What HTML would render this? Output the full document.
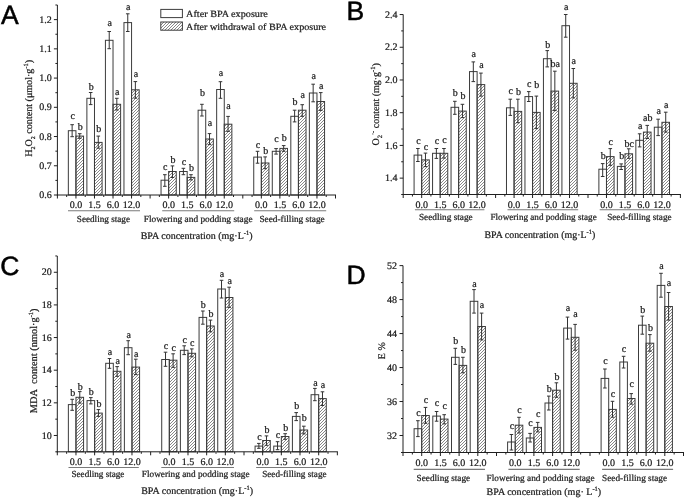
<!DOCTYPE html>
<html><head><meta charset="utf-8"><title>BPA figure</title>
<style>html,body{margin:0;padding:0;background:#fff;}body{width:685px;height:498px;overflow:hidden;}svg{display:block;filter:blur(0.4px);}text{font-family:"Liberation Serif", serif;fill:#1a1a1a;text-rendering:geometricPrecision;stroke:#1a1a1a;stroke-width:0.22px;}.s{font-family:"Liberation Sans", sans-serif;stroke:#000;stroke-width:0.5px;fill:#000;}</style>
</head><body>
<svg width="685" height="498" viewBox="0 0 685 498">
<defs><pattern id="h" patternUnits="userSpaceOnUse" width="3" height="3"><path d="M-0.75,0.75 L0.75,-0.75 M0,3 L3,0 M2.25,3.75 L3.75,2.25" stroke="#606060" stroke-width="0.75"/></pattern></defs>
<rect width="685" height="498" fill="#fff"/>
<rect x="68.34" y="130.7" width="7.6" height="64.3" fill="#fff" stroke="#3c3c3c" stroke-width="1"/>
<path d="M72.14,124.7 V136.7 M70.34,124.7 H73.94 M70.34,136.7 H73.94" stroke="#333333" stroke-width="1" fill="none"/>
<text x="72.64" y="119.4" font-size="10" text-anchor="middle">c</text>
<rect x="75.94" y="136.1" width="7.6" height="58.9" fill="url(#h)" stroke="#3c3c3c" stroke-width="1"/>
<path d="M79.74,133.7 V138.3 M77.94,133.7 H81.54 M77.94,138.3 H81.54" stroke="#333333" stroke-width="1" fill="none"/>
<text x="80.24" y="129.6" font-size="10" text-anchor="middle">b</text>
<rect x="86.88" y="98.3" width="7.6" height="96.7" fill="#fff" stroke="#3c3c3c" stroke-width="1"/>
<path d="M90.68,92.5 V104.6 M88.88,92.5 H92.48 M88.88,104.6 H92.48" stroke="#333333" stroke-width="1" fill="none"/>
<text x="91.18" y="90.2" font-size="10" text-anchor="middle">b</text>
<rect x="94.48" y="142.4" width="7.6" height="52.6" fill="url(#h)" stroke="#3c3c3c" stroke-width="1"/>
<path d="M98.28,136.1 V148.2 M96.48,136.1 H100.08 M96.48,148.2 H100.08" stroke="#333333" stroke-width="1" fill="none"/>
<text x="98.78" y="132.4" font-size="10" text-anchor="middle">b</text>
<rect x="105.42" y="40.3" width="7.6" height="154.7" fill="#fff" stroke="#3c3c3c" stroke-width="1"/>
<path d="M109.22,31.5 V48.7 M107.42,31.5 H111.02 M107.42,48.7 H111.02" stroke="#333333" stroke-width="1" fill="none"/>
<text x="109.72" y="25.7" font-size="10" text-anchor="middle">a</text>
<rect x="113.02" y="104.3" width="7.6" height="90.7" fill="url(#h)" stroke="#3c3c3c" stroke-width="1"/>
<path d="M116.82,98.3 V110 M115.02,98.3 H118.62 M115.02,110 H118.62" stroke="#333333" stroke-width="1" fill="none"/>
<text x="117.32" y="95" font-size="10" text-anchor="middle">a</text>
<rect x="123.96" y="22.6" width="7.6" height="172.4" fill="#fff" stroke="#3c3c3c" stroke-width="1"/>
<path d="M127.76,13.8 V31.5 M125.96,13.8 H129.56 M125.96,31.5 H129.56" stroke="#333333" stroke-width="1" fill="none"/>
<text x="128.26" y="9.5" font-size="10" text-anchor="middle">a</text>
<rect x="131.56" y="89.8" width="7.6" height="105.2" fill="url(#h)" stroke="#3c3c3c" stroke-width="1"/>
<path d="M135.36,81.6 V98.2 M133.56,81.6 H137.16 M133.56,98.2 H137.16" stroke="#333333" stroke-width="1" fill="none"/>
<text x="135.86" y="76.8" font-size="10" text-anchor="middle">a</text>
<rect x="161.04" y="180.2" width="7.6" height="14.8" fill="#fff" stroke="#3c3c3c" stroke-width="1"/>
<path d="M164.84,174.7 V186.3 M163.04,174.7 H166.64 M163.04,186.3 H166.64" stroke="#333333" stroke-width="1" fill="none"/>
<text x="165.34" y="170.2" font-size="10" text-anchor="middle">c</text>
<rect x="168.64" y="171.5" width="7.6" height="23.5" fill="url(#h)" stroke="#3c3c3c" stroke-width="1"/>
<path d="M172.44,165.9 V177.5 M170.64,165.9 H174.24 M170.64,177.5 H174.24" stroke="#333333" stroke-width="1" fill="none"/>
<text x="172.94" y="163.2" font-size="10" text-anchor="middle">b</text>
<rect x="179.58" y="171.5" width="7.6" height="23.5" fill="#fff" stroke="#3c3c3c" stroke-width="1"/>
<path d="M183.38,168.3 V174.7 M181.58,168.3 H185.18 M181.58,174.7 H185.18" stroke="#333333" stroke-width="1" fill="none"/>
<text x="183.88" y="165" font-size="10" text-anchor="middle">c</text>
<rect x="187.18" y="177.4" width="7.6" height="17.6" fill="url(#h)" stroke="#3c3c3c" stroke-width="1"/>
<path d="M190.98,174.7 V179.9 M189.18,174.7 H192.78 M189.18,179.9 H192.78" stroke="#333333" stroke-width="1" fill="none"/>
<text x="191.48" y="170.6" font-size="10" text-anchor="middle">b</text>
<rect x="198.12" y="110.2" width="7.6" height="84.8" fill="#fff" stroke="#3c3c3c" stroke-width="1"/>
<path d="M201.92,104.3 V116 M200.12,104.3 H203.72 M200.12,116 H203.72" stroke="#333333" stroke-width="1" fill="none"/>
<text x="202.42" y="96.2" font-size="10" text-anchor="middle">b</text>
<rect x="205.72" y="139" width="7.6" height="56" fill="url(#h)" stroke="#3c3c3c" stroke-width="1"/>
<path d="M209.52,133.6 V144.6 M207.72,133.6 H211.32 M207.72,144.6 H211.32" stroke="#333333" stroke-width="1" fill="none"/>
<text x="210.02" y="126.1" font-size="10" text-anchor="middle">a</text>
<rect x="216.66" y="89.5" width="7.6" height="105.5" fill="#fff" stroke="#3c3c3c" stroke-width="1"/>
<path d="M220.46,81.7 V98.3 M218.66,81.7 H222.26 M218.66,98.3 H222.26" stroke="#333333" stroke-width="1" fill="none"/>
<text x="220.96" y="75.5" font-size="10" text-anchor="middle">a</text>
<rect x="224.26" y="124.2" width="7.6" height="70.8" fill="url(#h)" stroke="#3c3c3c" stroke-width="1"/>
<path d="M228.06,116.4 V131.4 M226.26,116.4 H229.86 M226.26,131.4 H229.86" stroke="#333333" stroke-width="1" fill="none"/>
<text x="228.56" y="108.9" font-size="10" text-anchor="middle">a</text>
<rect x="253.74" y="157.1" width="7.6" height="37.9" fill="#fff" stroke="#3c3c3c" stroke-width="1"/>
<path d="M257.54,151.3 V163.2 M255.74,151.3 H259.34 M255.74,163.2 H259.34" stroke="#333333" stroke-width="1" fill="none"/>
<text x="258.04" y="148" font-size="10" text-anchor="middle">c</text>
<rect x="261.34" y="163" width="7.6" height="32" fill="url(#h)" stroke="#3c3c3c" stroke-width="1"/>
<path d="M265.14,156.9 V168.7 M263.34,156.9 H266.94 M263.34,168.7 H266.94" stroke="#333333" stroke-width="1" fill="none"/>
<text x="265.64" y="154" font-size="10" text-anchor="middle">b</text>
<rect x="272.28" y="151.3" width="7.6" height="43.7" fill="#fff" stroke="#3c3c3c" stroke-width="1"/>
<path d="M276.08,148.6 V154.1 M274.28,148.6 H277.88 M274.28,154.1 H277.88" stroke="#333333" stroke-width="1" fill="none"/>
<text x="276.58" y="142.4" font-size="10" text-anchor="middle">c</text>
<rect x="279.88" y="148.4" width="7.6" height="46.6" fill="url(#h)" stroke="#3c3c3c" stroke-width="1"/>
<path d="M283.68,145.6 V151.3 M281.88,145.6 H285.48 M281.88,151.3 H285.48" stroke="#333333" stroke-width="1" fill="none"/>
<text x="284.18" y="141" font-size="10" text-anchor="middle">b</text>
<rect x="290.82" y="116.3" width="7.6" height="78.7" fill="#fff" stroke="#3c3c3c" stroke-width="1"/>
<path d="M294.62,110.2 V121.9 M292.82,110.2 H296.42 M292.82,121.9 H296.42" stroke="#333333" stroke-width="1" fill="none"/>
<text x="295.12" y="105.4" font-size="10" text-anchor="middle">b</text>
<rect x="298.42" y="110.2" width="7.6" height="84.8" fill="url(#h)" stroke="#3c3c3c" stroke-width="1"/>
<path d="M302.22,104.7 V116.3 M300.42,104.7 H304.02 M300.42,116.3 H304.02" stroke="#333333" stroke-width="1" fill="none"/>
<text x="302.72" y="97.8" font-size="10" text-anchor="middle">a</text>
<rect x="309.36" y="93" width="7.6" height="102" fill="#fff" stroke="#3c3c3c" stroke-width="1"/>
<path d="M313.16,84.2 V101.8 M311.36,84.2 H314.96 M311.36,101.8 H314.96" stroke="#333333" stroke-width="1" fill="none"/>
<text x="313.66" y="79.1" font-size="10" text-anchor="middle">a</text>
<rect x="316.96" y="101.5" width="7.6" height="93.5" fill="url(#h)" stroke="#3c3c3c" stroke-width="1"/>
<path d="M320.76,92.6 V110.4 M318.96,92.6 H322.56 M318.96,110.4 H322.56" stroke="#333333" stroke-width="1" fill="none"/>
<text x="321.26" y="88.9" font-size="10" text-anchor="middle">a</text>
<path d="M57.4,5 V195.5 M56.9,195 H336" stroke="#202020" stroke-width="1" fill="none"/>
<path d="M53.9,195 H57.4 M53.9,165.77 H57.4 M53.9,136.54 H57.4 M53.9,107.31 H57.4 M53.9,78.08 H57.4 M53.9,48.85 H57.4 M53.9,19.62 H57.4 M55.4,180.38 H57.4 M55.4,151.16 H57.4 M55.4,121.92 H57.4 M55.4,92.7 H57.4 M55.4,63.46 H57.4 M55.4,34.24 H57.4 M55.4,5 H57.4 M57.4,195 V198.5 M75.94,195 V198.5 M94.48,195 V198.5 M113.02,195 V198.5 M131.56,195 V198.5 M150.1,195 V198.5 M168.64,195 V198.5 M187.18,195 V198.5 M205.72,195 V198.5 M224.26,195 V198.5 M242.8,195 V198.5 M261.34,195 V198.5 M279.88,195 V198.5 M298.42,195 V198.5 M316.96,195 V198.5 M335.5,195 V198.5 M66.67,195 V197 M85.21,195 V197 M103.75,195 V197 M122.29,195 V197 M140.83,195 V197 M159.37,195 V197 M177.91,195 V197 M196.45,195 V197 M214.99,195 V197 M233.53,195 V197 M252.07,195 V197 M270.61,195 V197 M289.15,195 V197 M307.69,195 V197 M326.23,195 V197" stroke="#202020" stroke-width="1" fill="none"/>
<text x="51.7" y="198.1" font-size="10" text-anchor="end">0.6</text>
<text x="51.7" y="168.87" font-size="10" text-anchor="end">0.7</text>
<text x="51.7" y="139.64" font-size="10" text-anchor="end">0.8</text>
<text x="51.7" y="110.41" font-size="10" text-anchor="end">0.9</text>
<text x="51.7" y="81.18" font-size="10" text-anchor="end">1.0</text>
<text x="51.7" y="51.95" font-size="10" text-anchor="end">1.1</text>
<text x="51.7" y="22.72" font-size="10" text-anchor="end">1.2</text>
<rect x="414.08" y="155.1" width="7.6" height="39.4" fill="#fff" stroke="#3c3c3c" stroke-width="1"/>
<path d="M417.88,148.5 V161.5 M416.08,148.5 H419.68 M416.08,161.5 H419.68" stroke="#333333" stroke-width="1" fill="none"/>
<text x="418.38" y="143.8" font-size="10" text-anchor="middle">c</text>
<rect x="421.68" y="159.9" width="7.6" height="34.6" fill="url(#h)" stroke="#3c3c3c" stroke-width="1"/>
<path d="M425.48,153.1 V166.6 M423.68,153.1 H427.28 M423.68,166.6 H427.28" stroke="#333333" stroke-width="1" fill="none"/>
<text x="425.98" y="149.6" font-size="10" text-anchor="middle">c</text>
<rect x="432.56" y="153.3" width="7.6" height="41.2" fill="#fff" stroke="#3c3c3c" stroke-width="1"/>
<path d="M436.36,148.5 V158.4 M434.56,148.5 H438.16 M434.56,158.4 H438.16" stroke="#333333" stroke-width="1" fill="none"/>
<text x="436.86" y="144.4" font-size="10" text-anchor="middle">c</text>
<rect x="440.16" y="153.3" width="7.6" height="41.2" fill="url(#h)" stroke="#3c3c3c" stroke-width="1"/>
<path d="M443.96,148.5 V158.1 M442.16,148.5 H445.76 M442.16,158.1 H445.76" stroke="#333333" stroke-width="1" fill="none"/>
<text x="444.46" y="142.6" font-size="10" text-anchor="middle">c</text>
<rect x="451.04" y="107.3" width="7.6" height="87.2" fill="#fff" stroke="#3c3c3c" stroke-width="1"/>
<path d="M454.84,101.3 V114.3 M453.04,101.3 H456.64 M453.04,114.3 H456.64" stroke="#333333" stroke-width="1" fill="none"/>
<text x="455.34" y="96" font-size="10" text-anchor="middle">b</text>
<rect x="458.64" y="111.1" width="7.6" height="83.4" fill="url(#h)" stroke="#3c3c3c" stroke-width="1"/>
<path d="M462.44,104.3 V117.6 M460.64,104.3 H464.24 M460.64,117.6 H464.24" stroke="#333333" stroke-width="1" fill="none"/>
<text x="462.94" y="99.2" font-size="10" text-anchor="middle">b</text>
<rect x="469.52" y="71.6" width="7.6" height="122.9" fill="#fff" stroke="#3c3c3c" stroke-width="1"/>
<path d="M473.32,61.9 V81.6 M471.52,61.9 H475.12 M471.52,81.6 H475.12" stroke="#333333" stroke-width="1" fill="none"/>
<text x="473.82" y="57.3" font-size="10" text-anchor="middle">a</text>
<rect x="477.12" y="84.6" width="7.6" height="109.9" fill="url(#h)" stroke="#3c3c3c" stroke-width="1"/>
<path d="M480.92,73.1 V96.1 M479.12,73.1 H482.72 M479.12,96.1 H482.72" stroke="#333333" stroke-width="1" fill="none"/>
<text x="481.42" y="68.2" font-size="10" text-anchor="middle">a</text>
<rect x="506.48" y="107.8" width="7.6" height="86.7" fill="#fff" stroke="#3c3c3c" stroke-width="1"/>
<path d="M510.28,99.2 V115.4 M508.48,99.2 H512.08 M508.48,115.4 H512.08" stroke="#333333" stroke-width="1" fill="none"/>
<text x="510.78" y="94.4" font-size="10" text-anchor="middle">c</text>
<rect x="514.08" y="111.4" width="7.6" height="83.1" fill="url(#h)" stroke="#3c3c3c" stroke-width="1"/>
<path d="M517.88,99.2 V122.7 M516.08,99.2 H519.68 M516.08,122.7 H519.68" stroke="#333333" stroke-width="1" fill="none"/>
<text x="518.38" y="94.9" font-size="10" text-anchor="middle">b</text>
<rect x="524.96" y="96.6" width="7.6" height="97.9" fill="#fff" stroke="#3c3c3c" stroke-width="1"/>
<path d="M528.76,91.6 V101.5 M526.96,91.6 H530.56 M526.96,101.5 H530.56" stroke="#333333" stroke-width="1" fill="none"/>
<text x="529.26" y="87.2" font-size="10" text-anchor="middle">c</text>
<rect x="532.56" y="112.4" width="7.6" height="82.1" fill="url(#h)" stroke="#3c3c3c" stroke-width="1"/>
<path d="M536.36,96.1 V128.6 M534.56,96.1 H538.16 M534.56,128.6 H538.16" stroke="#333333" stroke-width="1" fill="none"/>
<text x="536.86" y="88.1" font-size="10" text-anchor="middle">b</text>
<rect x="543.44" y="58.7" width="7.6" height="135.8" fill="#fff" stroke="#3c3c3c" stroke-width="1"/>
<path d="M547.24,50.6 V66.9 M545.44,50.6 H549.04 M545.44,66.9 H549.04" stroke="#333333" stroke-width="1" fill="none"/>
<text x="547.74" y="47.7" font-size="10" text-anchor="middle">b</text>
<rect x="551.04" y="91.1" width="7.6" height="103.4" fill="url(#h)" stroke="#3c3c3c" stroke-width="1"/>
<path d="M554.84,71.2 V110.6 M553.04,71.2 H556.64 M553.04,110.6 H556.64" stroke="#333333" stroke-width="1" fill="none"/>
<text x="555.34" y="66.8" font-size="10" text-anchor="middle">ba</text>
<rect x="561.92" y="25.7" width="7.6" height="168.8" fill="#fff" stroke="#3c3c3c" stroke-width="1"/>
<path d="M565.72,14.5 V37.2 M563.92,14.5 H567.52 M563.92,37.2 H567.52" stroke="#333333" stroke-width="1" fill="none"/>
<text x="566.22" y="10.1" font-size="10" text-anchor="middle">a</text>
<rect x="569.52" y="83.3" width="7.6" height="111.2" fill="url(#h)" stroke="#3c3c3c" stroke-width="1"/>
<path d="M573.32,68.5 V97.9 M571.52,68.5 H575.12 M571.52,97.9 H575.12" stroke="#333333" stroke-width="1" fill="none"/>
<text x="573.82" y="64.1" font-size="10" text-anchor="middle">a</text>
<rect x="598.88" y="169.2" width="7.6" height="25.3" fill="#fff" stroke="#3c3c3c" stroke-width="1"/>
<path d="M602.68,163.6 V176.5 M600.88,163.6 H604.48 M600.88,176.5 H604.48" stroke="#333333" stroke-width="1" fill="none"/>
<text x="603.18" y="159.2" font-size="10" text-anchor="middle">b</text>
<rect x="606.48" y="156.6" width="7.6" height="37.9" fill="url(#h)" stroke="#3c3c3c" stroke-width="1"/>
<path d="M610.28,148.6 V165.3 M608.48,148.6 H612.08 M608.48,165.3 H612.08" stroke="#333333" stroke-width="1" fill="none"/>
<text x="610.78" y="145.1" font-size="10" text-anchor="middle">c</text>
<rect x="617.36" y="166.4" width="7.6" height="28.1" fill="#fff" stroke="#3c3c3c" stroke-width="1"/>
<path d="M621.16,163.9 V169.5 M619.36,163.9 H622.96 M619.36,169.5 H622.96" stroke="#333333" stroke-width="1" fill="none"/>
<text x="621.66" y="159.2" font-size="10" text-anchor="middle">b</text>
<rect x="624.96" y="153.8" width="7.6" height="40.7" fill="url(#h)" stroke="#3c3c3c" stroke-width="1"/>
<path d="M628.76,148.8 V158.3 M626.96,148.8 H630.56 M626.96,158.3 H630.56" stroke="#333333" stroke-width="1" fill="none"/>
<text x="629.26" y="146.5" font-size="10" text-anchor="middle">bc</text>
<rect x="635.84" y="140.3" width="7.6" height="54.2" fill="#fff" stroke="#3c3c3c" stroke-width="1"/>
<path d="M639.64,133.8 V146.9 M637.84,133.8 H641.44 M637.84,146.9 H641.44" stroke="#333333" stroke-width="1" fill="none"/>
<text x="640.14" y="129.1" font-size="10" text-anchor="middle">a</text>
<rect x="643.44" y="132.1" width="7.6" height="62.4" fill="url(#h)" stroke="#3c3c3c" stroke-width="1"/>
<path d="M647.24,125.4 V138.5 M645.44,125.4 H649.04 M645.44,138.5 H649.04" stroke="#333333" stroke-width="1" fill="none"/>
<text x="647.74" y="121" font-size="10" text-anchor="middle">ab</text>
<rect x="654.32" y="127.2" width="7.6" height="67.3" fill="#fff" stroke="#3c3c3c" stroke-width="1"/>
<path d="M658.12,119.2 V135.6 M656.32,119.2 H659.92 M656.32,135.6 H659.92" stroke="#333333" stroke-width="1" fill="none"/>
<text x="658.62" y="114.3" font-size="10" text-anchor="middle">a</text>
<rect x="661.92" y="122.3" width="7.6" height="72.2" fill="url(#h)" stroke="#3c3c3c" stroke-width="1"/>
<path d="M665.72,112.2 V132.1 M663.92,112.2 H667.52 M663.92,132.1 H667.52" stroke="#333333" stroke-width="1" fill="none"/>
<text x="666.22" y="107.7" font-size="10" text-anchor="middle">a</text>
<path d="M403.2,14.5 V195 M402.7,194.5 H680.9" stroke="#202020" stroke-width="1" fill="none"/>
<path d="M399.7,178.14 H403.2 M399.7,145.42 H403.2 M399.7,112.7 H403.2 M399.7,79.98 H403.2 M399.7,47.26 H403.2 M399.7,14.54 H403.2 M401.2,194.5 H403.2 M401.2,161.78 H403.2 M401.2,129.06 H403.2 M401.2,96.34 H403.2 M401.2,63.62 H403.2 M401.2,30.9 H403.2 M403.2,194.5 V198 M421.68,194.5 V198 M440.16,194.5 V198 M458.64,194.5 V198 M477.12,194.5 V198 M495.6,194.5 V198 M514.08,194.5 V198 M532.56,194.5 V198 M551.04,194.5 V198 M569.52,194.5 V198 M588,194.5 V198 M606.48,194.5 V198 M624.96,194.5 V198 M643.44,194.5 V198 M661.92,194.5 V198 M680.4,194.5 V198 M412.44,194.5 V196.5 M430.92,194.5 V196.5 M449.4,194.5 V196.5 M467.88,194.5 V196.5 M486.36,194.5 V196.5 M504.84,194.5 V196.5 M523.32,194.5 V196.5 M541.8,194.5 V196.5 M560.28,194.5 V196.5 M578.76,194.5 V196.5 M597.24,194.5 V196.5 M615.72,194.5 V196.5 M634.2,194.5 V196.5 M652.68,194.5 V196.5 M671.16,194.5 V196.5" stroke="#202020" stroke-width="1" fill="none"/>
<text x="397.5" y="181.24" font-size="10" text-anchor="end">1.4</text>
<text x="397.5" y="148.52" font-size="10" text-anchor="end">1.6</text>
<text x="397.5" y="115.8" font-size="10" text-anchor="end">1.8</text>
<text x="397.5" y="83.08" font-size="10" text-anchor="end">2.0</text>
<text x="397.5" y="50.36" font-size="10" text-anchor="end">2.2</text>
<text x="397.5" y="17.64" font-size="10" text-anchor="end">2.4</text>
<rect x="68.37" y="404.6" width="7.6" height="47.2" fill="#fff" stroke="#3c3c3c" stroke-width="1"/>
<path d="M72.17,399.3 V410.3 M70.37,399.3 H73.97 M70.37,410.3 H73.97" stroke="#333333" stroke-width="1" fill="none"/>
<text x="72.67" y="395.7" font-size="10" text-anchor="middle">b</text>
<rect x="75.97" y="397.3" width="7.6" height="54.5" fill="url(#h)" stroke="#3c3c3c" stroke-width="1"/>
<path d="M79.77,391.6 V403.1 M77.97,391.6 H81.57 M77.97,403.1 H81.57" stroke="#333333" stroke-width="1" fill="none"/>
<text x="80.27" y="389.6" font-size="10" text-anchor="middle">b</text>
<rect x="87.04" y="400.6" width="7.6" height="51.2" fill="#fff" stroke="#3c3c3c" stroke-width="1"/>
<path d="M90.84,397.6 V403.9 M89.04,397.6 H92.64 M89.04,403.9 H92.64" stroke="#333333" stroke-width="1" fill="none"/>
<text x="91.34" y="394.7" font-size="10" text-anchor="middle">b</text>
<rect x="94.64" y="413.1" width="7.6" height="38.7" fill="url(#h)" stroke="#3c3c3c" stroke-width="1"/>
<path d="M98.44,409.6 V416.4 M96.64,409.6 H100.24 M96.64,416.4 H100.24" stroke="#333333" stroke-width="1" fill="none"/>
<text x="98.94" y="406.7" font-size="10" text-anchor="middle">b</text>
<rect x="105.71" y="363.3" width="7.6" height="88.5" fill="#fff" stroke="#3c3c3c" stroke-width="1"/>
<path d="M109.51,358.5 V368.3 M107.71,358.5 H111.31 M107.71,368.3 H111.31" stroke="#333333" stroke-width="1" fill="none"/>
<text x="110.01" y="354.9" font-size="10" text-anchor="middle">a</text>
<rect x="113.31" y="371.3" width="7.6" height="80.5" fill="url(#h)" stroke="#3c3c3c" stroke-width="1"/>
<path d="M117.11,366.6 V376.3 M115.31,366.6 H118.91 M115.31,376.3 H118.91" stroke="#333333" stroke-width="1" fill="none"/>
<text x="117.61" y="363.7" font-size="10" text-anchor="middle">a</text>
<rect x="124.38" y="347.7" width="7.6" height="104.1" fill="#fff" stroke="#3c3c3c" stroke-width="1"/>
<path d="M128.18,340.7 V354.7 M126.38,340.7 H129.98 M126.38,354.7 H129.98" stroke="#333333" stroke-width="1" fill="none"/>
<text x="128.68" y="337.8" font-size="10" text-anchor="middle">a</text>
<rect x="131.98" y="367.1" width="7.6" height="84.7" fill="url(#h)" stroke="#3c3c3c" stroke-width="1"/>
<path d="M135.78,359.2 V374.6 M133.98,359.2 H137.58 M133.98,374.6 H137.58" stroke="#333333" stroke-width="1" fill="none"/>
<text x="136.28" y="356.6" font-size="10" text-anchor="middle">a</text>
<rect x="161.72" y="359.5" width="7.6" height="92.3" fill="#fff" stroke="#3c3c3c" stroke-width="1"/>
<path d="M165.52,352.2 V366.3 M163.72,352.2 H167.32 M163.72,366.3 H167.32" stroke="#333333" stroke-width="1" fill="none"/>
<text x="166.02" y="349" font-size="10" text-anchor="middle">c</text>
<rect x="169.32" y="360.2" width="7.6" height="91.6" fill="url(#h)" stroke="#3c3c3c" stroke-width="1"/>
<path d="M173.12,353.8 V367.3 M171.32,353.8 H174.92 M171.32,367.3 H174.92" stroke="#333333" stroke-width="1" fill="none"/>
<text x="173.62" y="351" font-size="10" text-anchor="middle">c</text>
<rect x="180.39" y="350.3" width="7.6" height="101.5" fill="#fff" stroke="#3c3c3c" stroke-width="1"/>
<path d="M184.19,345.8 V354.6 M182.39,345.8 H185.99 M182.39,354.6 H185.99" stroke="#333333" stroke-width="1" fill="none"/>
<text x="184.69" y="342.5" font-size="10" text-anchor="middle">c</text>
<rect x="187.99" y="353.3" width="7.6" height="98.5" fill="url(#h)" stroke="#3c3c3c" stroke-width="1"/>
<path d="M191.79,348.9 V356.8 M189.99,348.9 H193.59 M189.99,356.8 H193.59" stroke="#333333" stroke-width="1" fill="none"/>
<text x="192.29" y="346.3" font-size="10" text-anchor="middle">c</text>
<rect x="199.06" y="317.4" width="7.6" height="134.4" fill="#fff" stroke="#3c3c3c" stroke-width="1"/>
<path d="M202.86,311 V324.2 M201.06,311 H204.66 M201.06,324.2 H204.66" stroke="#333333" stroke-width="1" fill="none"/>
<text x="203.36" y="307.9" font-size="10" text-anchor="middle">b</text>
<rect x="206.66" y="326" width="7.6" height="125.8" fill="url(#h)" stroke="#3c3c3c" stroke-width="1"/>
<path d="M210.46,320.1 V331.8 M208.66,320.1 H212.26 M208.66,331.8 H212.26" stroke="#333333" stroke-width="1" fill="none"/>
<text x="210.96" y="316.6" font-size="10" text-anchor="middle">b</text>
<rect x="217.73" y="289" width="7.6" height="162.8" fill="#fff" stroke="#3c3c3c" stroke-width="1"/>
<path d="M221.53,280.3 V298 M219.73,280.3 H223.33 M219.73,298 H223.33" stroke="#333333" stroke-width="1" fill="none"/>
<text x="222.03" y="276.8" font-size="10" text-anchor="middle">a</text>
<rect x="225.33" y="297.5" width="7.6" height="154.3" fill="url(#h)" stroke="#3c3c3c" stroke-width="1"/>
<path d="M229.13,287.2 V307.4 M227.33,287.2 H230.93 M227.33,307.4 H230.93" stroke="#333333" stroke-width="1" fill="none"/>
<text x="229.63" y="284" font-size="10" text-anchor="middle">a</text>
<rect x="255.07" y="446.1" width="7.6" height="5.7" fill="#fff" stroke="#3c3c3c" stroke-width="1"/>
<path d="M258.87,443.4 V448.3 M257.07,443.4 H260.67 M257.07,448.3 H260.67" stroke="#333333" stroke-width="1" fill="none"/>
<text x="259.37" y="439.9" font-size="10" text-anchor="middle">c</text>
<rect x="262.67" y="440.5" width="7.6" height="11.3" fill="url(#h)" stroke="#3c3c3c" stroke-width="1"/>
<path d="M266.47,435.9 V445.3 M264.67,435.9 H268.27 M264.67,445.3 H268.27" stroke="#333333" stroke-width="1" fill="none"/>
<text x="266.97" y="433.4" font-size="10" text-anchor="middle">b</text>
<rect x="273.74" y="446.1" width="7.6" height="5.7" fill="#fff" stroke="#3c3c3c" stroke-width="1"/>
<path d="M277.54,441.7 V449.7 M275.74,441.7 H279.34 M275.74,449.7 H279.34" stroke="#333333" stroke-width="1" fill="none"/>
<text x="278.04" y="437.8" font-size="10" text-anchor="middle">c</text>
<rect x="281.34" y="436.5" width="7.6" height="15.3" fill="url(#h)" stroke="#3c3c3c" stroke-width="1"/>
<path d="M285.14,433.7 V439.3 M283.34,433.7 H286.94 M283.34,439.3 H286.94" stroke="#333333" stroke-width="1" fill="none"/>
<text x="285.64" y="431.2" font-size="10" text-anchor="middle">b</text>
<rect x="292.41" y="416.4" width="7.6" height="35.4" fill="#fff" stroke="#3c3c3c" stroke-width="1"/>
<path d="M296.21,412.6 V420.6 M294.41,412.6 H298.01 M294.41,420.6 H298.01" stroke="#333333" stroke-width="1" fill="none"/>
<text x="296.71" y="409.3" font-size="10" text-anchor="middle">b</text>
<rect x="300.01" y="430" width="7.6" height="21.8" fill="url(#h)" stroke="#3c3c3c" stroke-width="1"/>
<path d="M303.81,426.2 V433.9 M302.01,426.2 H305.61 M302.01,433.9 H305.61" stroke="#333333" stroke-width="1" fill="none"/>
<text x="304.31" y="421.2" font-size="10" text-anchor="middle">b</text>
<rect x="311.08" y="394.7" width="7.6" height="57.1" fill="#fff" stroke="#3c3c3c" stroke-width="1"/>
<path d="M314.88,388.4 V400.7 M313.08,388.4 H316.68 M313.08,400.7 H316.68" stroke="#333333" stroke-width="1" fill="none"/>
<text x="315.38" y="385.8" font-size="10" text-anchor="middle">a</text>
<rect x="318.68" y="398.6" width="7.6" height="53.2" fill="url(#h)" stroke="#3c3c3c" stroke-width="1"/>
<path d="M322.48,391.8 V405.5 M320.68,391.8 H324.28 M320.68,405.5 H324.28" stroke="#333333" stroke-width="1" fill="none"/>
<text x="322.98" y="388" font-size="10" text-anchor="middle">a</text>
<path d="M57.3,256 V452.3 M56.8,451.8 H337.85" stroke="#202020" stroke-width="1" fill="none"/>
<path d="M53.8,435.48 H57.3 M53.8,402.84 H57.3 M53.8,370.2 H57.3 M53.8,337.56 H57.3 M53.8,304.92 H57.3 M53.8,272.28 H57.3 M55.3,451.8 H57.3 M55.3,419.16 H57.3 M55.3,386.52 H57.3 M55.3,353.88 H57.3 M55.3,321.24 H57.3 M55.3,288.6 H57.3 M55.3,255.96 H57.3 M57.3,451.8 V455.3 M75.97,451.8 V455.3 M94.64,451.8 V455.3 M113.31,451.8 V455.3 M131.98,451.8 V455.3 M150.65,451.8 V455.3 M169.32,451.8 V455.3 M187.99,451.8 V455.3 M206.66,451.8 V455.3 M225.33,451.8 V455.3 M244,451.8 V455.3 M262.67,451.8 V455.3 M281.34,451.8 V455.3 M300.01,451.8 V455.3 M318.68,451.8 V455.3 M337.35,451.8 V455.3 M66.63,451.8 V453.8 M85.31,451.8 V453.8 M103.97,451.8 V453.8 M122.64,451.8 V453.8 M141.31,451.8 V453.8 M159.99,451.8 V453.8 M178.66,451.8 V453.8 M197.32,451.8 V453.8 M216,451.8 V453.8 M234.67,451.8 V453.8 M253.34,451.8 V453.8 M272,451.8 V453.8 M290.68,451.8 V453.8 M309.35,451.8 V453.8 M328.02,451.8 V453.8" stroke="#202020" stroke-width="1" fill="none"/>
<text x="51.7" y="438.58" font-size="10" text-anchor="end">10</text>
<text x="51.7" y="405.94" font-size="10" text-anchor="end">12</text>
<text x="51.7" y="373.3" font-size="10" text-anchor="end">14</text>
<text x="51.7" y="340.66" font-size="10" text-anchor="end">16</text>
<text x="51.7" y="308.02" font-size="10" text-anchor="end">18</text>
<text x="51.7" y="275.38" font-size="10" text-anchor="end">20</text>
<rect x="414.1" y="428.7" width="7.6" height="23.8" fill="#fff" stroke="#3c3c3c" stroke-width="1"/>
<path d="M417.9,420.7 V436.6 M416.1,420.7 H419.7 M416.1,436.6 H419.7" stroke="#333333" stroke-width="1" fill="none"/>
<text x="418.4" y="415.6" font-size="10" text-anchor="middle">c</text>
<rect x="421.7" y="415.5" width="7.6" height="37" fill="url(#h)" stroke="#3c3c3c" stroke-width="1"/>
<path d="M425.5,407.4 V423.3 M423.7,407.4 H427.3 M423.7,423.3 H427.3" stroke="#333333" stroke-width="1" fill="none"/>
<text x="426" y="402.7" font-size="10" text-anchor="middle">c</text>
<rect x="432.8" y="416.1" width="7.6" height="36.4" fill="#fff" stroke="#3c3c3c" stroke-width="1"/>
<path d="M436.6,411.5 V421.2 M434.8,411.5 H438.4 M434.8,421.2 H438.4" stroke="#333333" stroke-width="1" fill="none"/>
<text x="437.1" y="405.6" font-size="10" text-anchor="middle">c</text>
<rect x="440.4" y="419.1" width="7.6" height="33.4" fill="url(#h)" stroke="#3c3c3c" stroke-width="1"/>
<path d="M444.2,414.7 V423.9 M442.4,414.7 H446 M442.4,423.9 H446" stroke="#333333" stroke-width="1" fill="none"/>
<text x="444.7" y="408.7" font-size="10" text-anchor="middle">c</text>
<rect x="451.5" y="357.3" width="7.6" height="95.2" fill="#fff" stroke="#3c3c3c" stroke-width="1"/>
<path d="M455.3,348.3 V364.4 M453.5,348.3 H457.1 M453.5,364.4 H457.1" stroke="#333333" stroke-width="1" fill="none"/>
<text x="455.8" y="344" font-size="10" text-anchor="middle">b</text>
<rect x="459.1" y="365.4" width="7.6" height="87.1" fill="url(#h)" stroke="#3c3c3c" stroke-width="1"/>
<path d="M462.9,357.3 V372.8 M461.1,357.3 H464.7 M461.1,372.8 H464.7" stroke="#333333" stroke-width="1" fill="none"/>
<text x="463.4" y="353.4" font-size="10" text-anchor="middle">b</text>
<rect x="470.2" y="301.3" width="7.6" height="151.2" fill="#fff" stroke="#3c3c3c" stroke-width="1"/>
<path d="M474,289.6 V313.1 M472.2,289.6 H475.8 M472.2,313.1 H475.8" stroke="#333333" stroke-width="1" fill="none"/>
<text x="474.5" y="287" font-size="10" text-anchor="middle">a</text>
<rect x="477.8" y="326.5" width="7.6" height="126" fill="url(#h)" stroke="#3c3c3c" stroke-width="1"/>
<path d="M481.6,313.1 V339.9 M479.8,313.1 H483.4 M479.8,339.9 H483.4" stroke="#333333" stroke-width="1" fill="none"/>
<text x="482.1" y="308.3" font-size="10" text-anchor="middle">a</text>
<rect x="507.6" y="442" width="7.6" height="10.5" fill="#fff" stroke="#3c3c3c" stroke-width="1"/>
<path d="M511.4,434.5 V450 M509.6,434.5 H513.2 M509.6,450 H513.2" stroke="#333333" stroke-width="1" fill="none"/>
<text x="511.9" y="429" font-size="10" text-anchor="middle">c</text>
<rect x="515.2" y="425.2" width="7.6" height="27.3" fill="url(#h)" stroke="#3c3c3c" stroke-width="1"/>
<path d="M519,417.3 V433 M517.2,417.3 H520.8 M517.2,433 H520.8" stroke="#333333" stroke-width="1" fill="none"/>
<text x="519.5" y="412.5" font-size="10" text-anchor="middle">c</text>
<rect x="526.3" y="438" width="7.6" height="14.5" fill="#fff" stroke="#3c3c3c" stroke-width="1"/>
<path d="M530.1,433.4 V442 M528.3,433.4 H531.9 M528.3,442 H531.9" stroke="#333333" stroke-width="1" fill="none"/>
<text x="530.6" y="426" font-size="10" text-anchor="middle">c</text>
<rect x="533.9" y="427.4" width="7.6" height="25.1" fill="url(#h)" stroke="#3c3c3c" stroke-width="1"/>
<path d="M537.7,422.4 V431.9 M535.9,422.4 H539.5 M535.9,431.9 H539.5" stroke="#333333" stroke-width="1" fill="none"/>
<text x="538.2" y="417" font-size="10" text-anchor="middle">c</text>
<rect x="545" y="403" width="7.6" height="49.5" fill="#fff" stroke="#3c3c3c" stroke-width="1"/>
<path d="M548.8,396.1 V410 M547,396.1 H550.6 M547,410 H550.6" stroke="#333333" stroke-width="1" fill="none"/>
<text x="549.3" y="392.2" font-size="10" text-anchor="middle">b</text>
<rect x="552.6" y="390.2" width="7.6" height="62.3" fill="url(#h)" stroke="#3c3c3c" stroke-width="1"/>
<path d="M556.4,382.8 V397.3 M554.6,382.8 H558.2 M554.6,397.3 H558.2" stroke="#333333" stroke-width="1" fill="none"/>
<text x="556.9" y="379.7" font-size="10" text-anchor="middle">b</text>
<rect x="563.7" y="328.1" width="7.6" height="124.4" fill="#fff" stroke="#3c3c3c" stroke-width="1"/>
<path d="M567.5,317.1 V339.1 M565.7,317.1 H569.3 M565.7,339.1 H569.3" stroke="#333333" stroke-width="1" fill="none"/>
<text x="568" y="310.5" font-size="10" text-anchor="middle">a</text>
<rect x="571.3" y="337.3" width="7.6" height="115.2" fill="url(#h)" stroke="#3c3c3c" stroke-width="1"/>
<path d="M575.1,324.4 V350.2 M573.3,324.4 H576.9 M573.3,350.2 H576.9" stroke="#333333" stroke-width="1" fill="none"/>
<text x="575.6" y="317.2" font-size="10" text-anchor="middle">a</text>
<rect x="601.1" y="378.4" width="7.6" height="74.1" fill="#fff" stroke="#3c3c3c" stroke-width="1"/>
<path d="M604.9,369 V388 M603.1,369 H606.7 M603.1,388 H606.7" stroke="#333333" stroke-width="1" fill="none"/>
<text x="605.4" y="364.2" font-size="10" text-anchor="middle">c</text>
<rect x="608.7" y="409.4" width="7.6" height="43.1" fill="url(#h)" stroke="#3c3c3c" stroke-width="1"/>
<path d="M612.5,401.3 V417.2 M610.7,401.3 H614.3 M610.7,417.2 H614.3" stroke="#333333" stroke-width="1" fill="none"/>
<text x="613" y="397.2" font-size="10" text-anchor="middle">c</text>
<rect x="619.8" y="362" width="7.6" height="90.5" fill="#fff" stroke="#3c3c3c" stroke-width="1"/>
<path d="M623.6,356.3 V368 M621.8,356.3 H625.4 M621.8,368 H625.4" stroke="#333333" stroke-width="1" fill="none"/>
<text x="624.1" y="352.3" font-size="10" text-anchor="middle">c</text>
<rect x="627.4" y="398.5" width="7.6" height="54" fill="url(#h)" stroke="#3c3c3c" stroke-width="1"/>
<path d="M631.2,393.6 V404.1 M629.4,393.6 H633 M629.4,404.1 H633" stroke="#333333" stroke-width="1" fill="none"/>
<text x="631.7" y="386.7" font-size="10" text-anchor="middle">c</text>
<rect x="638.5" y="325.2" width="7.6" height="127.3" fill="#fff" stroke="#3c3c3c" stroke-width="1"/>
<path d="M642.3,316.1 V334.2 M640.5,316.1 H644.1 M640.5,334.2 H644.1" stroke="#333333" stroke-width="1" fill="none"/>
<text x="642.8" y="312.6" font-size="10" text-anchor="middle">b</text>
<rect x="646.1" y="343.2" width="7.6" height="109.3" fill="url(#h)" stroke="#3c3c3c" stroke-width="1"/>
<path d="M649.9,334.6 V351.2 M648.1,334.6 H651.7 M648.1,351.2 H651.7" stroke="#333333" stroke-width="1" fill="none"/>
<text x="650.4" y="331.3" font-size="10" text-anchor="middle">b</text>
<rect x="657.2" y="285.4" width="7.6" height="167.1" fill="#fff" stroke="#3c3c3c" stroke-width="1"/>
<path d="M661,273.3 V297.2 M659.2,273.3 H662.8 M659.2,297.2 H662.8" stroke="#333333" stroke-width="1" fill="none"/>
<text x="661.5" y="268.7" font-size="10" text-anchor="middle">a</text>
<rect x="664.8" y="306.5" width="7.6" height="146" fill="url(#h)" stroke="#3c3c3c" stroke-width="1"/>
<path d="M668.6,292.5 V320.1 M666.8,292.5 H670.4 M666.8,320.1 H670.4" stroke="#333333" stroke-width="1" fill="none"/>
<text x="669.1" y="285.8" font-size="10" text-anchor="middle">a</text>
<path d="M403,265.6 V453 M402.5,452.5 H684" stroke="#202020" stroke-width="1" fill="none"/>
<path d="M399.5,435.51 H403 M399.5,401.53 H403 M399.5,367.55 H403 M399.5,333.57 H403 M399.5,299.59 H403 M399.5,265.61 H403 M401,452.5 H403 M401,418.52 H403 M401,384.54 H403 M401,350.56 H403 M401,316.58 H403 M401,282.6 H403 M403,452.5 V456 M421.7,452.5 V456 M440.4,452.5 V456 M459.1,452.5 V456 M477.8,452.5 V456 M496.5,452.5 V456 M515.2,452.5 V456 M533.9,452.5 V456 M552.6,452.5 V456 M571.3,452.5 V456 M590,452.5 V456 M608.7,452.5 V456 M627.4,452.5 V456 M646.1,452.5 V456 M664.8,452.5 V456 M683.5,452.5 V456 M412.35,452.5 V454.5 M431.05,452.5 V454.5 M449.75,452.5 V454.5 M468.45,452.5 V454.5 M487.15,452.5 V454.5 M505.85,452.5 V454.5 M524.55,452.5 V454.5 M543.25,452.5 V454.5 M561.95,452.5 V454.5 M580.65,452.5 V454.5 M599.35,452.5 V454.5 M618.05,452.5 V454.5 M636.75,452.5 V454.5 M655.45,452.5 V454.5 M674.15,452.5 V454.5" stroke="#202020" stroke-width="1" fill="none"/>
<text x="397" y="438.61" font-size="10" text-anchor="end">32</text>
<text x="397" y="404.63" font-size="10" text-anchor="end">36</text>
<text x="397" y="370.65" font-size="10" text-anchor="end">40</text>
<text x="397" y="336.67" font-size="10" text-anchor="end">44</text>
<text x="397" y="302.69" font-size="10" text-anchor="end">48</text>
<text x="397" y="268.71" font-size="10" text-anchor="end">52</text>
<text x="75.94" y="208.2" font-size="10" text-anchor="middle">0.0</text>
<text x="94.48" y="208.2" font-size="10" text-anchor="middle">1.5</text>
<text x="113.02" y="208.2" font-size="10" text-anchor="middle">6.0</text>
<text x="131.56" y="208.2" font-size="10" text-anchor="middle">12.0</text>
<path d="M68,210.8 H140" stroke="#7a7a7a" stroke-width="1.1"/>
<text x="76.8" y="222" font-size="9.3" text-anchor="start" textLength="53.2" lengthAdjust="spacingAndGlyphs">Seedling stage</text>
<text x="168.64" y="208.2" font-size="10" text-anchor="middle">0.0</text>
<text x="187.18" y="208.2" font-size="10" text-anchor="middle">1.5</text>
<text x="205.72" y="208.2" font-size="10" text-anchor="middle">6.0</text>
<text x="224.26" y="208.2" font-size="10" text-anchor="middle">12.0</text>
<path d="M162.2,210.8 H234.2" stroke="#7a7a7a" stroke-width="1.1"/>
<text x="143.8" y="222" font-size="9.3" text-anchor="start" textLength="108.8" lengthAdjust="spacingAndGlyphs">Flowering and podding stage</text>
<text x="261.34" y="208.2" font-size="10" text-anchor="middle">0.0</text>
<text x="279.88" y="208.2" font-size="10" text-anchor="middle">1.5</text>
<text x="298.42" y="208.2" font-size="10" text-anchor="middle">6.0</text>
<text x="316.96" y="208.2" font-size="10" text-anchor="middle">12.0</text>
<path d="M254.2,210.8 H326.2" stroke="#7a7a7a" stroke-width="1.1"/>
<text x="259.4" y="222" font-size="9.3" text-anchor="start" textLength="65.3" lengthAdjust="spacingAndGlyphs">Seed-filling stage</text>
<text x="140.7" y="239.2" font-size="10" textLength="111.9" lengthAdjust="spacingAndGlyphs">BPA concentration (mg&#183;L<tspan font-size="6.5" dy="-4">-1</tspan><tspan dy="4">)</tspan></text>
<text x="421.68" y="207.6" font-size="10" text-anchor="middle">0.0</text>
<text x="440.16" y="207.6" font-size="10" text-anchor="middle">1.5</text>
<text x="458.64" y="207.6" font-size="10" text-anchor="middle">6.0</text>
<text x="477.12" y="207.6" font-size="10" text-anchor="middle">12.0</text>
<path d="M414.9,209.8 H484.4" stroke="#7a7a7a" stroke-width="1.1"/>
<text x="418.9" y="220" font-size="9.3" text-anchor="start" textLength="53.8" lengthAdjust="spacingAndGlyphs">Seedling stage</text>
<text x="514.08" y="207.6" font-size="10" text-anchor="middle">0.0</text>
<text x="532.56" y="207.6" font-size="10" text-anchor="middle">1.5</text>
<text x="551.04" y="207.6" font-size="10" text-anchor="middle">6.0</text>
<text x="569.52" y="207.6" font-size="10" text-anchor="middle">12.0</text>
<path d="M507.5,209.8 H578.2" stroke="#7a7a7a" stroke-width="1.1"/>
<text x="490.5" y="220" font-size="9.3" text-anchor="start" textLength="106.2" lengthAdjust="spacingAndGlyphs">Flowering and podding stage</text>
<text x="606.48" y="207.6" font-size="10" text-anchor="middle">0.0</text>
<text x="624.96" y="207.6" font-size="10" text-anchor="middle">1.5</text>
<text x="643.44" y="207.6" font-size="10" text-anchor="middle">6.0</text>
<text x="661.92" y="207.6" font-size="10" text-anchor="middle">12.0</text>
<path d="M599.7,209.8 H671" stroke="#7a7a7a" stroke-width="1.1"/>
<text x="607.2" y="220" font-size="9.3" text-anchor="start" textLength="64.4" lengthAdjust="spacingAndGlyphs">Seed-filling stage</text>
<text x="484.5" y="238.4" font-size="10" textLength="110.7" lengthAdjust="spacingAndGlyphs">BPA concentration (mg&#183;L<tspan font-size="6.5" dy="-4">-1</tspan><tspan dy="4">)</tspan></text>
<text x="75.97" y="464.6" font-size="10" text-anchor="middle">0.0</text>
<text x="94.64" y="464.6" font-size="10" text-anchor="middle">1.5</text>
<text x="113.31" y="464.6" font-size="10" text-anchor="middle">6.0</text>
<text x="131.98" y="464.6" font-size="10" text-anchor="middle">12.0</text>
<path d="M68.5,467.5 H138.8" stroke="#7a7a7a" stroke-width="1.1"/>
<text x="71.5" y="476.5" font-size="9.3" text-anchor="start" textLength="52.9" lengthAdjust="spacingAndGlyphs">Seedling stage</text>
<text x="169.32" y="464.6" font-size="10" text-anchor="middle">0.0</text>
<text x="187.99" y="464.6" font-size="10" text-anchor="middle">1.5</text>
<text x="206.66" y="464.6" font-size="10" text-anchor="middle">6.0</text>
<text x="225.33" y="464.6" font-size="10" text-anchor="middle">12.0</text>
<path d="M161.3,467.5 H234" stroke="#7a7a7a" stroke-width="1.1"/>
<text x="141.8" y="476.5" font-size="9.3" text-anchor="start" textLength="107.8" lengthAdjust="spacingAndGlyphs">Flowering and podding stage</text>
<text x="262.67" y="464.6" font-size="10" text-anchor="middle">0.0</text>
<text x="281.34" y="464.6" font-size="10" text-anchor="middle">1.5</text>
<text x="300.01" y="464.6" font-size="10" text-anchor="middle">6.0</text>
<text x="318.68" y="464.6" font-size="10" text-anchor="middle">12.0</text>
<path d="M256.1,467.5 H325.8" stroke="#7a7a7a" stroke-width="1.1"/>
<text x="262.2" y="476.5" font-size="9.3" text-anchor="start" textLength="64.4" lengthAdjust="spacingAndGlyphs">Seed-filling stage</text>
<text x="141.2" y="494.4" font-size="10" textLength="111.9" lengthAdjust="spacingAndGlyphs">BPA concentration (mg&#183;L<tspan font-size="6.5" dy="-4">-1</tspan><tspan dy="4">)</tspan></text>
<text x="421.7" y="465.9" font-size="10" text-anchor="middle">0.0</text>
<text x="440.4" y="465.9" font-size="10" text-anchor="middle">1.5</text>
<text x="459.1" y="465.9" font-size="10" text-anchor="middle">6.0</text>
<text x="477.8" y="465.9" font-size="10" text-anchor="middle">12.0</text>
<path d="M413.7,469.4 H485" stroke="#7a7a7a" stroke-width="1.1"/>
<text x="416.6" y="480.9" font-size="9.3" text-anchor="start" textLength="53.5" lengthAdjust="spacingAndGlyphs">Seedling stage</text>
<text x="515.2" y="465.9" font-size="10" text-anchor="middle">0.0</text>
<text x="533.9" y="465.9" font-size="10" text-anchor="middle">1.5</text>
<text x="552.6" y="465.9" font-size="10" text-anchor="middle">6.0</text>
<text x="571.3" y="465.9" font-size="10" text-anchor="middle">12.0</text>
<path d="M508.4,469.4 H579.7" stroke="#7a7a7a" stroke-width="1.1"/>
<text x="486.6" y="480.9" font-size="9.3" text-anchor="start" textLength="108" lengthAdjust="spacingAndGlyphs">Flowering and podding stage</text>
<text x="608.7" y="465.9" font-size="10" text-anchor="middle">0.0</text>
<text x="627.4" y="465.9" font-size="10" text-anchor="middle">1.5</text>
<text x="646.1" y="465.9" font-size="10" text-anchor="middle">6.0</text>
<text x="664.8" y="465.9" font-size="10" text-anchor="middle">12.0</text>
<path d="M602.1,469.4 H673.1" stroke="#7a7a7a" stroke-width="1.1"/>
<text x="602.1" y="480.9" font-size="9.3" text-anchor="start" textLength="65" lengthAdjust="spacingAndGlyphs">Seed-filling stage</text>
<text x="486.6" y="494.6" font-size="10" textLength="114.6" lengthAdjust="spacingAndGlyphs">BPA concentration (mg&#183;&#160;L<tspan font-size="6.5" dy="-4">-1</tspan><tspan dy="4">)</tspan></text>
<text transform="translate(32.1,156.8) rotate(-90)" x="0" y="0" font-size="10" textLength="97" lengthAdjust="spacingAndGlyphs">H<tspan font-size="6" dy="3.3">2</tspan><tspan dy="-3.3">O</tspan><tspan font-size="6" dy="3.3">2</tspan><tspan dy="-3.3"> content (&#956;mol&#183;g</tspan><tspan font-size="6.5" dy="-4">-1</tspan><tspan dy="4">)</tspan></text>
<text transform="translate(379.2,145.5) rotate(-90)" x="0" y="0" font-size="10" textLength="82.3" lengthAdjust="spacingAndGlyphs">O<tspan font-size="6.5" dy="2.5">2</tspan><tspan font-size="6.5" dy="-7">&#183;-</tspan><tspan dy="4.5"> content (mg&#183;g</tspan><tspan font-size="6.5" dy="-4">-1</tspan><tspan dy="4">)</tspan></text>
<text transform="translate(36.6,413.3) rotate(-90)" x="0" y="0" font-size="10.3" textLength="104.9" lengthAdjust="spacingAndGlyphs">MDA&#160; content (nmol&#183;g<tspan font-size="6.5" dy="-4">-1</tspan><tspan dy="4">)</tspan></text>
<text transform="translate(385.2,359.2) rotate(-90)" x="0" y="0" font-size="10" textLength="16.9" lengthAdjust="spacingAndGlyphs">E %</text>
<text x="1" y="23.9" font-size="26.5" text-anchor="start" class="s">A</text>
<text x="346.6" y="19.8" font-size="26.5" text-anchor="start" class="s">B</text>
<text x="0.2" y="275.2" font-size="26.5" text-anchor="start" class="s">C</text>
<text x="346.6" y="283.8" font-size="26.5" text-anchor="start" class="s">D</text>
<rect x="160.8" y="9.4" width="21.6" height="8.2" fill="#fff" stroke="#3c3c3c" stroke-width="1"/>
<rect x="160.8" y="22.0" width="21.6" height="8.2" fill="url(#h)" stroke="#3c3c3c" stroke-width="1"/>
<text x="186.1" y="16.8" font-size="9.6" text-anchor="start" textLength="81.8" lengthAdjust="spacingAndGlyphs">After BPA exposure</text>
<text x="186.1" y="29.5" font-size="9.6" text-anchor="start" textLength="140" lengthAdjust="spacingAndGlyphs">After withdrawal of BPA exposure</text>
</svg></body></html>
